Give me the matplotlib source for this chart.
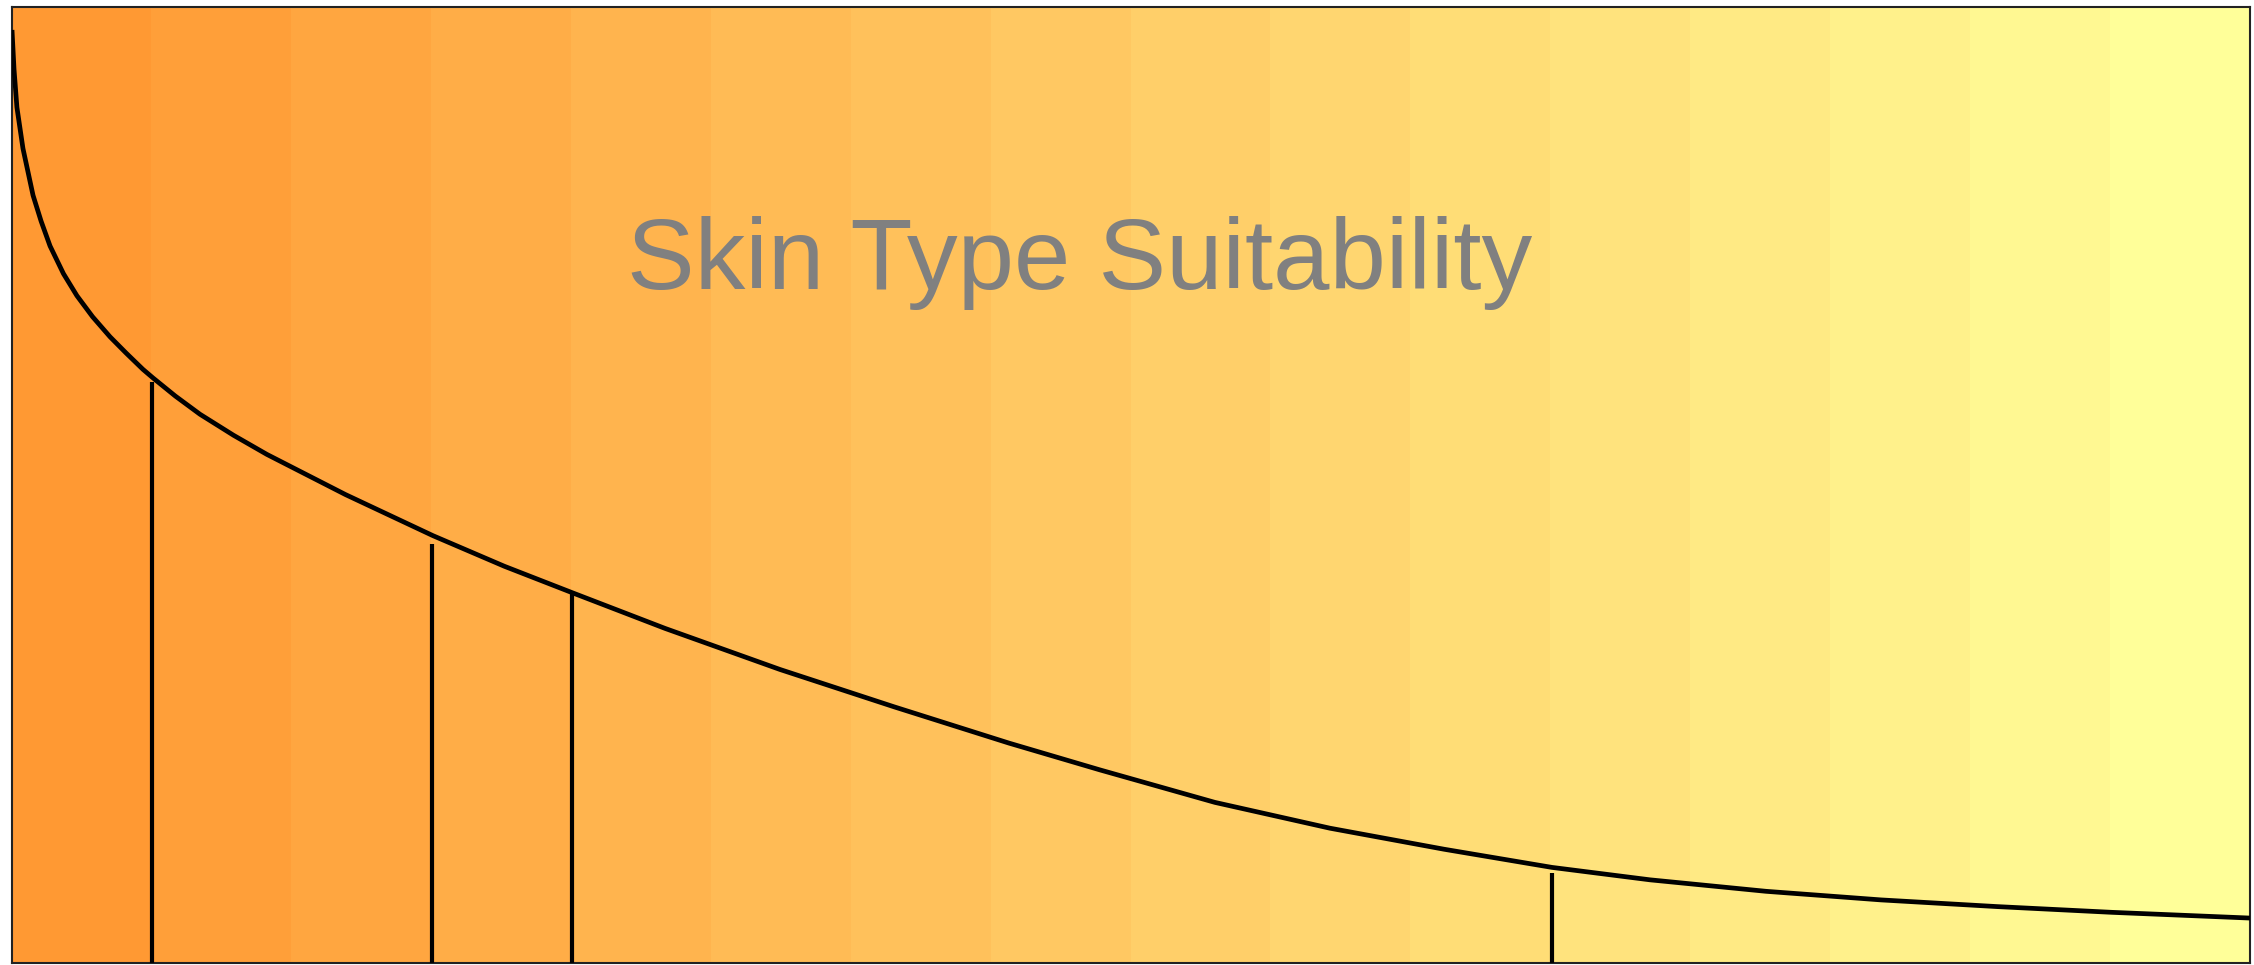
import numpy as np
import matplotlib
matplotlib.use("Agg")
import matplotlib.pyplot as plt
from matplotlib.colors import LinearSegmentedColormap

# ---- data (x: 0-100, y: 0-100) ----
curve_x = [0.0, 0.09, 0.22, 0.49, 0.94, 1.30, 1.70, 2.30, 2.90, 3.60, 4.38,
           5.10, 5.85, 6.30, 7.30, 8.40, 9.90, 11.39, 14.90, 18.81, 22.00,
           25.07, 29.18, 34.32, 39.41, 44.55, 48.61, 53.75, 58.89, 63.99,
           68.81, 73.19, 78.37, 83.51, 88.70, 93.83, 100.0]
curve_y = [97.6, 93.5, 89.5, 85.2, 80.3, 77.6, 75.0, 72.1, 69.8, 67.6, 65.5,
           63.8, 62.1, 61.2, 59.3, 57.4, 55.2, 53.2, 49.0, 44.7, 41.5,
           38.7, 35.0, 30.7, 26.8, 23.0, 20.2, 16.8, 14.1, 11.9,
           10.0, 8.7, 7.5, 6.6, 5.9, 5.3, 4.7]

stem_x = [6.26, 18.77, 25.02, 68.81]
stem_top = [60.8, 43.8, 38.7, 9.4]

title_text = "Skin Type Suitability"

W, H = 2254, 965
fig = plt.figure(figsize=(W / 100, H / 100), dpi=100)
fig.patch.set_facecolor("white")

ax = fig.add_axes([12 / W, 2 / H, 2238 / W, 956 / H])
ax.set_xlim(0, 100)
ax.set_ylim(0, 100)

# stepped horizontal gradient background
cmap = LinearSegmentedColormap.from_list("grad", ["#FF9933", "#FFFF99"])
grad = np.linspace(0, 1, 16).reshape(1, -1)
ax.imshow(grad, cmap=cmap, extent=[0, 100, 0, 100], aspect="auto",
          interpolation="nearest", zorder=0)

ax.plot(curve_x, curve_y, color="black", lw=3.4, zorder=3,
        solid_capstyle="butt", solid_joinstyle="round")
ax.vlines(stem_x, 0, stem_top, color="black", lw=3.0, zorder=3)

ax.set_xticks([])
ax.set_yticks([])
for s in ax.spines.values():
    s.set_color("#222222")
    s.set_linewidth(1.5)

fig.text(1080 / W, 1 - 289 / H, title_text, color="#808080",
         fontsize=73, family="Liberation Sans", ha="center", va="baseline")

fig.savefig("out.png", dpi=100)
